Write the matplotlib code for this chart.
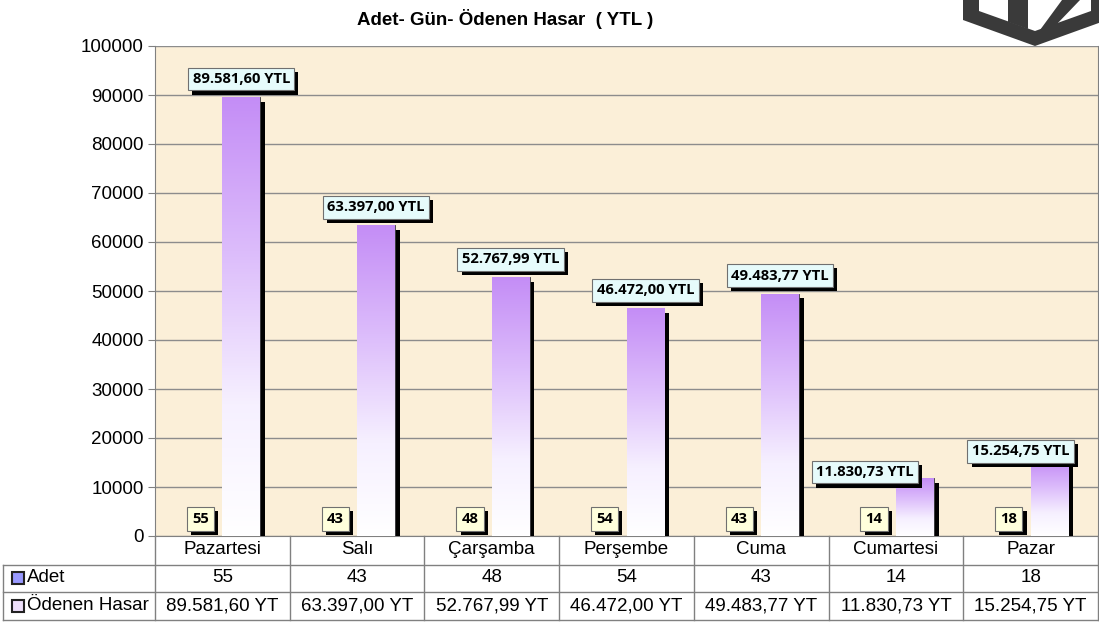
import numpy as np
import matplotlib
matplotlib.use("Agg")
import matplotlib.pyplot as plt
import matplotlib.patheffects as pe
from matplotlib.patches import Rectangle, Polygon
from matplotlib.lines import Line2D
from matplotlib.colors import LinearSegmentedColormap
from matplotlib.transforms import blended_transform_factory

plt.rcParams["font.family"] = ["Liberation Sans", "DejaVu Sans"]

# data
days = ["Pazartesi", "Salı", "Çarşamba", "Perşembe", "Cuma", "Cumartesi", "Pazar"]
adet = [55, 43, 48, 54, 43, 14, 18]
hasar = [89581.60, 63397.00, 52767.99, 46472.00, 49483.77, 11830.73, 15254.75]
yticks = [0, 10000, 20000, 30000, 40000, 50000, 60000, 70000, 80000, 90000, 100000]
title = "Adet- Gün- Ödenen Hasar  ( YTL )"
row_names = ["Adet", "Ödenen Hasar"]

# label nudges (pixels) where the original labels sit off-centre
hasar_shift = [(0, 0), (0, 0), (0, 0), (0, 0), (0, 0), (-50, -12), (-29, -8)]


def tr(v):
    s = f"{v:,.2f}"
    return s.replace(",", "#").replace(".", ",").replace("#", ".")


W, H = 1099, 626
fig = plt.figure(figsize=(W / 100, H / 100), dpi=100)
fig.patch.set_facecolor("white")
ax = fig.add_axes([155 / W, 1 - 536 / H, 943 / W, 490 / H])
ax.set_facecolor("#fbefd8")

purple = LinearSegmentedColormap.from_list(
    "p", [(0, "#ffffff"), (0.3, "#f6f0ff"), (0.65, "#dcbcfb"), (1, "#c48df6")])
grad = np.linspace(0, 1, 256).reshape(-1, 1)

x = np.arange(len(days))
bw = 0.28
shadow = [pe.withSimplePatchShadow(offset=(3.5, -3.5), shadow_rgbFace="k", alpha=1)]

b1 = ax.bar(x - bw / 2, adet, bw, color="#9999ff", edgecolor="#333333", lw=0.6, zorder=3)
b2 = ax.bar(x + bw / 2, hasar, bw, color="#e0c8fa", edgecolor="#333333", lw=0.6, zorder=3)
for b in list(b1) + list(b2):
    b.set_path_effects(shadow)
for b in b2:
    x0, w, h = b.get_x(), b.get_width(), b.get_height()
    im = ax.imshow(grad, extent=[x0, x0 + w, 0, h], origin="lower", aspect="auto",
                   cmap=purple, zorder=3.5)
    im.set_clip_path(b)

ax.set_xlim(-0.5, len(days) - 0.5)
ax.set_ylim(0, 100000)
ax.set_yticks(yticks)
ax.set_yticklabels([str(t) for t in yticks], fontsize=13.5)
ax.set_xticks([])
ax.tick_params(axis="y", length=5, color="#808080", pad=3)
ax.yaxis.grid(True, color="#8c8c8c", lw=1)
ax.set_axisbelow(True)
for s in ax.spines.values():
    s.set_color("#808080")
ax.spines["top"].set_visible(False)

lbl_font = dict(fontsize=10.6, fontweight="bold", family=["Open Sans", "DejaVu Sans"])
box_shadow = [pe.withSimplePatchShadow(offset=(3, -3), shadow_rgbFace="k", alpha=1)]
for i, v in enumerate(hasar):
    dx, dy = hasar_shift[i]
    t = ax.annotate(tr(v) + " YTL", (x[i] + bw / 2, v), xytext=(dx, 11 + dy),
                    textcoords="offset pixels", ha="center", va="bottom", zorder=6,
                    bbox=dict(boxstyle="square,pad=0.3", fc="#e6fbfb", ec="#707070", lw=0.8),
                    **lbl_font)
    t.get_bbox_patch().set_path_effects(box_shadow)
for i, v in enumerate(adet):
    t = ax.annotate(str(v), (x[i] - bw / 2, v), xytext=(-3, 10),
                    textcoords="offset pixels", ha="center", va="bottom", zorder=6,
                    bbox=dict(boxstyle="square,pad=0.35", fc="#ffffdc", ec="#707070", lw=0.8),
                    **lbl_font)
    t.get_bbox_patch().set_path_effects(box_shadow)

fig.text(505 / W, 1 - 19 / H, title, ha="center", va="center",
         fontsize=13.5, fontweight="bold")

# data table under the chart
bt = blended_transform_factory(ax.transData, fig.transFigure)
fy = lambda p: 1 - p / H
lc = "#808080"
for b in np.arange(len(days) + 1) - 0.5:
    fig.add_artist(Line2D([b, b], [fy(536), fy(620)], transform=bt, color=lc, lw=1))
for p in (565, 592, 620):
    fig.add_artist(Line2D([3 / W, 1098 / W], [fy(p), fy(p)], transform=fig.transFigure, color=lc, lw=1))
fig.add_artist(Line2D([3 / W, 3 / W], [fy(565), fy(620)], transform=fig.transFigure, color=lc, lw=1))

for i, d in enumerate(days):
    fig.text(x[i], fy(550), d, transform=bt, ha="center", va="center", fontsize=13.5)
    fig.text(x[i], fy(578), str(adet[i]), transform=bt, ha="center", va="center", fontsize=13.5)
    fig.text(x[i], fy(606), tr(hasar[i]) + " YT", transform=bt, ha="center", va="center", fontsize=13.5)

for r, (name, fc) in enumerate(zip(row_names, ["#9999ff", "#eee0fb"])):
    yc = 578 + 28 * r
    fig.add_artist(Rectangle((12 / W, fy(yc + 6)), 12 / W, 12 / H, transform=fig.transFigure,
                             fc=fc, ec="#222222", lw=1.5))
    fig.text(27 / W, fy(yc), name, ha="left", va="center", fontsize=13.5)

# watermark logo, top right
dark = "#3a3a3a"
P = lambda pts: [(a / W, fy(b)) for a, b in pts]
fig.add_artist(Polygon(P([(963, 0), (963, 20), (1035, 46), (1107, 20), (1107, 0)]),
                       transform=fig.transFigure, fc=dark, ec="none"))
fig.add_artist(Polygon(P([(979, 0), (979, 11), (1035, 31), (1091, 11), (1091, 0)]),
                       transform=fig.transFigure, fc="white", ec="none"))
fig.add_artist(Polygon(P([(1008, 0), (1008, 22), (1028, 29), (1028, 0)]),
                       transform=fig.transFigure, fc=dark, ec="none"))
fig.add_artist(Polygon(P([(1040, 30), (1056, 25), (1080, 0), (1062, 0)]),
                       transform=fig.transFigure, fc=dark, ec="none"))

fig.savefig("out.png", dpi=100)
